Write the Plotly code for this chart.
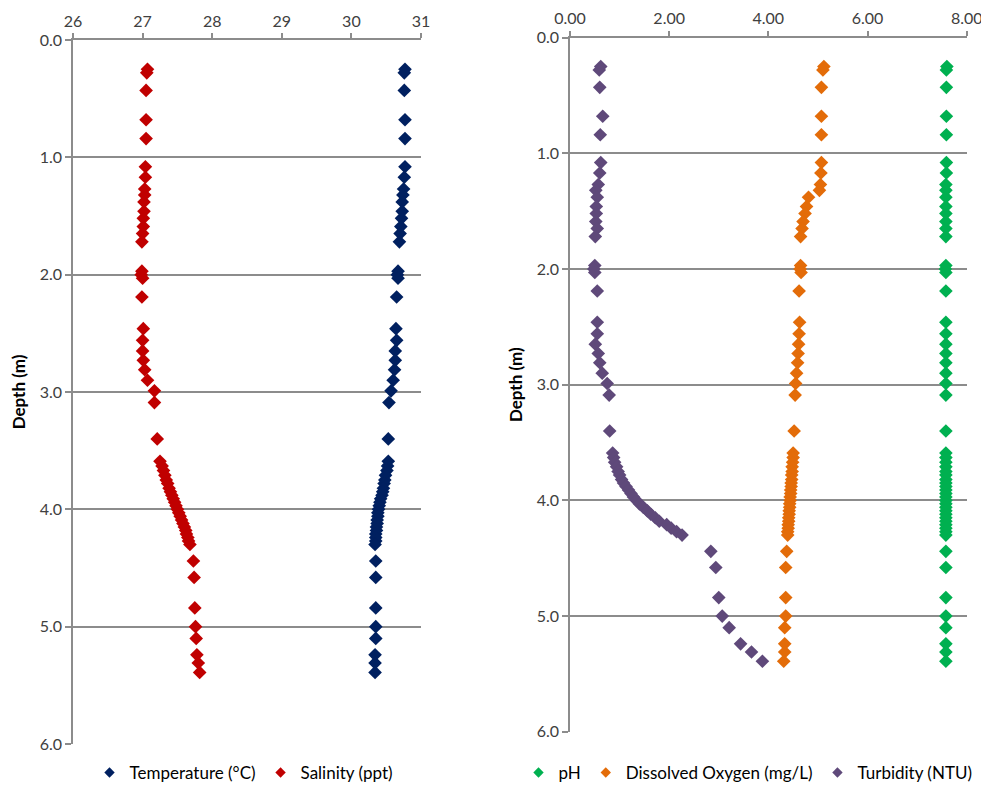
import plotly.graph_objects as go

depth = [0.25, 0.28, 0.43, 0.68, 0.84, 1.08, 1.17, 1.27, 1.32, 1.38, 1.46, 1.52, 1.59, 1.65, 1.72,
         1.97, 2.00, 2.03, 2.19, 2.46, 2.56, 2.65, 2.73, 2.81, 2.90, 2.99, 3.09, 3.40,
         3.59, 3.63, 3.67, 3.71, 3.75, 3.78, 3.82, 3.85, 3.88, 3.91, 3.94, 3.97, 4.00, 4.03,
         4.06, 4.09, 4.12, 4.15, 4.18, 4.21, 4.24, 4.27, 4.30,
         4.44, 4.58, 4.84, 5.00, 5.10, 5.24, 5.31, 5.39]

temperature = [30.77, 30.76, 30.76, 30.77, 30.77, 30.77, 30.76, 30.75, 30.74, 30.73, 30.73, 30.72, 30.71, 30.70, 30.69,
               30.67, 30.66, 30.67, 30.65, 30.64, 30.65, 30.63, 30.63, 30.62, 30.60, 30.57, 30.54, 30.53,
               30.53, 30.52, 30.51, 30.49, 30.48, 30.47, 30.46, 30.45, 30.44, 30.42, 30.41, 30.40, 30.39, 30.38,
               30.38, 30.37, 30.37, 30.36, 30.36, 30.35, 30.35, 30.35, 30.34,
               30.35, 30.35, 30.35, 30.35, 30.35, 30.34, 30.34, 30.34]

salinity = [27.07, 27.06, 27.05, 27.05, 27.05, 27.04, 27.04, 27.03, 27.03, 27.02, 27.02, 27.01, 27.01, 27.00, 26.99,
            26.99, 26.98, 27.00, 26.99, 27.01, 27.00, 27.00, 27.01, 27.03, 27.07, 27.17, 27.17, 27.21,
            27.25, 27.28, 27.30, 27.32, 27.34, 27.36, 27.38, 27.40, 27.42, 27.44, 27.46, 27.48, 27.50, 27.52,
            27.54, 27.56, 27.58, 27.60, 27.62, 27.63, 27.65, 27.66, 27.68,
            27.73, 27.74, 27.75, 27.76, 27.77, 27.78, 27.80, 27.82]

ph = [7.60, 7.59, 7.59, 7.59, 7.59, 7.59, 7.59, 7.58, 7.58, 7.58, 7.58, 7.58, 7.58, 7.58, 7.58,
      7.58, 7.57, 7.58, 7.58, 7.58, 7.58, 7.58, 7.58, 7.58, 7.58, 7.58, 7.58, 7.58,
      7.58, 7.58, 7.58, 7.58, 7.58, 7.58, 7.58, 7.58, 7.58, 7.58, 7.58, 7.58, 7.58, 7.58,
      7.58, 7.58, 7.58, 7.58, 7.58, 7.58, 7.58, 7.58, 7.58,
      7.58, 7.58, 7.58, 7.58, 7.58, 7.58, 7.58, 7.58]

dissolved_oxygen = [5.12, 5.10, 5.07, 5.07, 5.07, 5.07, 5.06, 5.05, 5.03, 4.81, 4.77, 4.74, 4.70, 4.68, 4.65,
                    4.65, 4.64, 4.66, 4.62, 4.63, 4.62, 4.61, 4.60, 4.59, 4.57, 4.55, 4.54, 4.52,
                    4.50, 4.50, 4.49, 4.48, 4.48, 4.47, 4.47, 4.46, 4.46, 4.45, 4.45, 4.44, 4.44, 4.43,
                    4.43, 4.42, 4.42, 4.41, 4.41, 4.40, 4.40, 4.39, 4.39,
                    4.37, 4.35, 4.35, 4.35, 4.33, 4.33, 4.33, 4.31]

turbidity = [0.62, 0.59, 0.60, 0.66, 0.61, 0.62, 0.60, 0.57, 0.52, 0.55, 0.53, 0.53, 0.52, 0.55, 0.51,
             0.50, 0.48, 0.50, 0.55, 0.55, 0.55, 0.51, 0.57, 0.60, 0.65, 0.75, 0.79, 0.80,
             0.86, 0.88, 0.90, 0.94, 0.97, 1.00, 1.04, 1.08, 1.13, 1.18, 1.23, 1.28, 1.34, 1.40,
             1.48, 1.56, 1.63, 1.72, 1.80, 1.95, 2.04, 2.15, 2.26,
             2.84, 2.94, 3.00, 3.07, 3.21, 3.44, 3.66, 3.88]

left_ticks = [26, 27, 28, 29, 30, 31]
right_ticks = [0, 2, 4, 6, 8]
depth_ticks = [0, 1, 2, 3, 4, 5, 6]

FONT = "Lato, 'Open Sans', sans-serif"
GRID = "#8c8c8c"
MS = 10.5
W, H, OFF = 989, 792, 8

def fx(px):
    return (px - OFF) / W

def fy(py):
    return 1 - (py - OFF) / H

fig = go.Figure()

def add(x, name, color, xa, ya, leg):
    fig.add_trace(go.Scatter(x=x, y=depth, mode="markers", name=name, showlegend=False,
                             marker=dict(symbol="diamond", size=MS, color=color),
                             xaxis=xa, yaxis=ya))
    fig.add_trace(go.Scatter(x=[None], y=[None], mode="markers", name=name, showlegend=True,
                             marker=dict(symbol="diamond", size=8, color=color),
                             xaxis=xa, yaxis=ya, legend=leg))

add(temperature, "Temperature (°C)", "#002060", "x", "y", "legend")
add(salinity, "Salinity (ppt)", "#C00000", "x", "y", "legend")
add(ph, "pH", "#00B050", "x2", "y2", "legend2")
add(dissolved_oxygen, "Dissolved Oxygen (mg/L)", "#E36C09", "x2", "y2", "legend2")
add(turbidity, "Turbidity (NTU)", "#5F497A", "x2", "y2", "legend2")

xcommon = dict(side="top", showgrid=False, showline=True, linecolor=GRID, linewidth=1.5,
               ticks="outside", ticklen=5, tickcolor=GRID, tickwidth=1.5,
               tickfont=dict(size=16, color="#404040"), zeroline=False, automargin=False)
ycommon = dict(range=[6, 0], tickvals=depth_ticks, tickformat=".1f", showgrid=True,
               gridcolor=GRID, gridwidth=1.5, showline=True, linecolor=GRID, linewidth=1.5,
               ticks="outside", ticklen=6, tickcolor=GRID, tickwidth=1.5,
               tickfont=dict(size=16, color="#404040"), zeroline=False, automargin=False,
               title=dict(text="<b>Depth (m)</b>", font=dict(size=17, color="#000000"), standoff=10))

fig.update_layout(
    width=W, height=H,
    margin=dict(l=0, r=0, t=0, b=0),
    paper_bgcolor="white", plot_bgcolor="white",
    font=dict(family=FONT, color="#404040"),
    showlegend=True,
    xaxis=dict(xcommon, domain=[fx(73), fx(421)], range=[26, 31], tickvals=left_ticks, anchor="y"),
    yaxis=dict(ycommon, domain=[fy(744), fy(40)], anchor="x"),
    xaxis2=dict(xcommon, domain=[fx(570), fx(966.7)], range=[0, 8], tickvals=right_ticks,
                tickformat=".2f", anchor="y2"),
    yaxis2=dict(ycommon, domain=[fy(731.8), fy(37.6)], anchor="x2"),
    legend=dict(orientation="h", x=fx(244), xanchor="center", y=fy(773), yanchor="middle",
                font=dict(size=17, color="#000000"), itemwidth=30, bgcolor="rgba(0,0,0,0)"),
    legend2=dict(orientation="h", x=fx(748), xanchor="center", y=fy(773), yanchor="middle",
                 font=dict(size=17, color="#000000"), itemwidth=30, bgcolor="rgba(0,0,0,0)"),
)

fig.write_html("out.html")
